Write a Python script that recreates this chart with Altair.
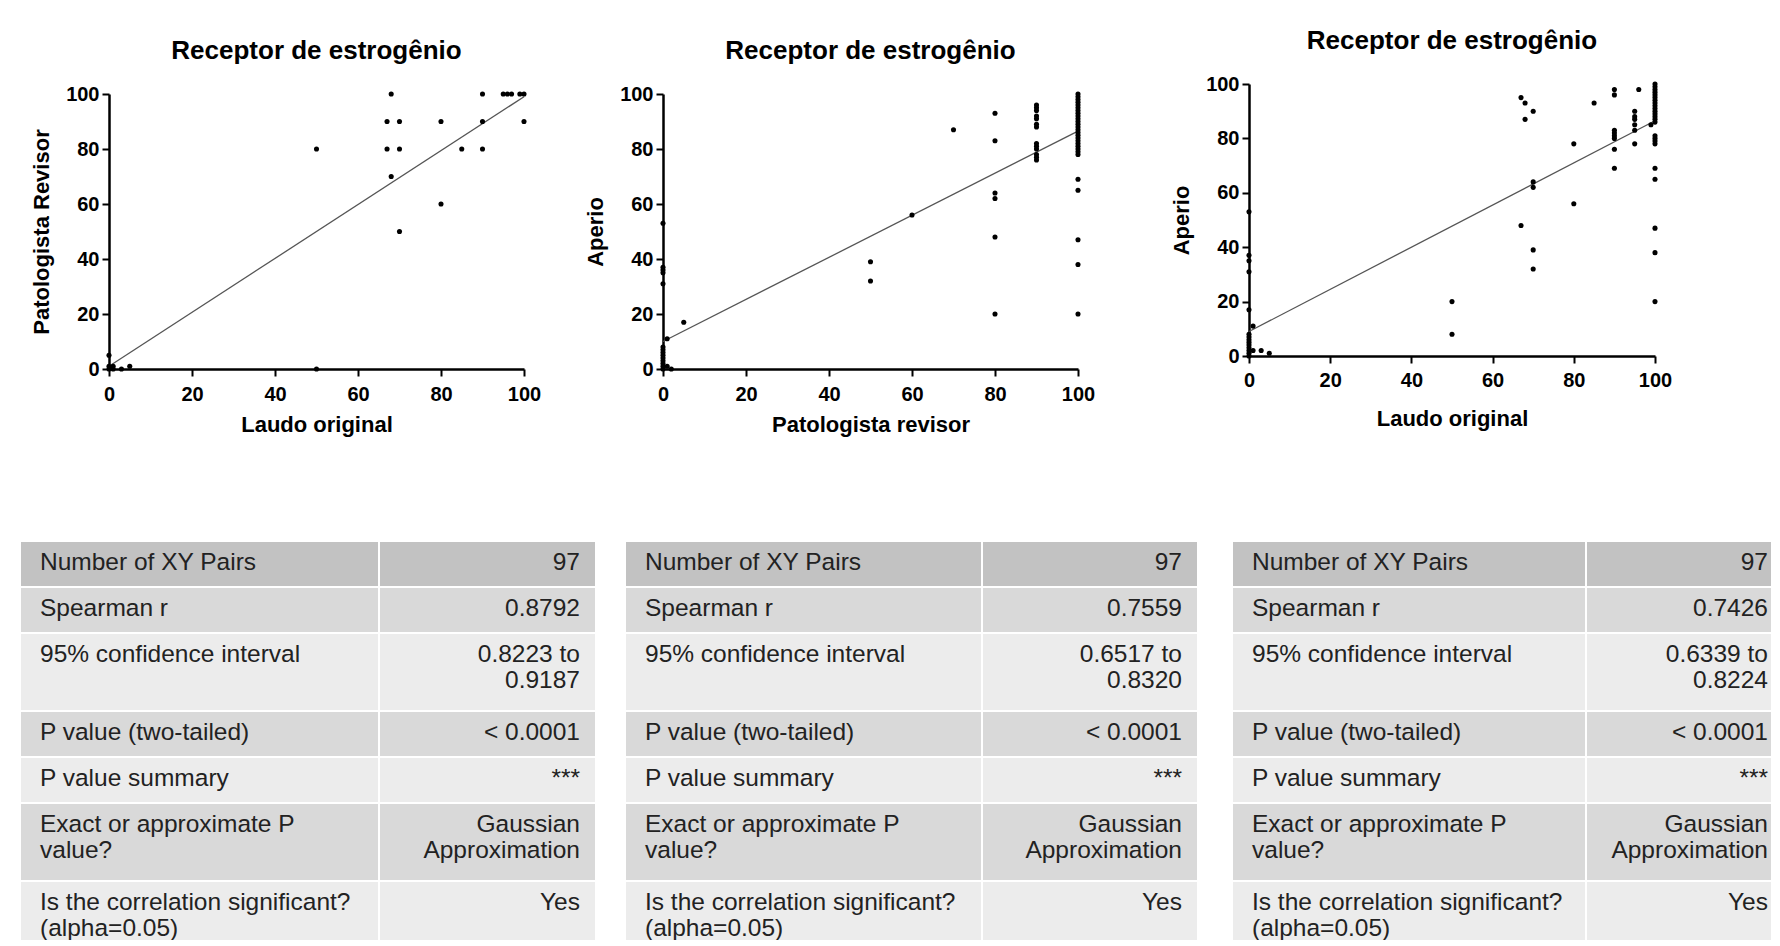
import altair as alt
import pandas as pd

FONT = "Liberation Sans, Arial, Helvetica, sans-serif"
TITLE = "Receptor de estrogênio"
TICKS = [0, 20, 40, 60, 80, 100]

# ---- Plot 1: Laudo original (x) vs Patologista Revisor (y)
p1_x = [0, 0, 0, 1, 1, 3, 5, 50, 50, 67, 67, 68, 68, 70, 70, 70, 80, 80, 85, 90, 90, 90, 95, 96, 97, 99, 100, 100]
p1_y = [0, 5, 1, 1, 0, 0, 1, 0, 80, 90, 80, 100, 70, 90, 80, 50, 90, 60, 80, 100, 90, 80, 100, 100, 100, 100, 100, 90]
p1_fit_x = [0, 100]
p1_fit_y = [1, 99]

# ---- Plot 2: Patologista revisor (x) vs Aperio (y)
p2_x = [0, 0, 0, 0, 0, 0, 0, 0, 0, 0, 0, 0, 0, 0, 1, 1, 2, 5, 50, 50, 60, 70,
        80, 80, 80, 80, 80, 80,
        90, 90, 90, 90, 90, 90, 90, 90, 90, 90, 90, 90, 90,
        100, 100, 100, 100, 100, 100, 100, 100, 100, 100, 100, 100, 100, 100,
        100, 100, 100, 100, 100, 100, 100, 100, 100, 100, 100, 100, 100, 100]
p2_y = [0, 1, 2, 3, 4, 5, 6, 7, 8, 31, 35, 36, 37, 53, 11, 1, 0, 17, 39, 32, 56, 87,
        93, 83, 64, 62, 48, 20,
        96, 95, 94, 92, 91, 89, 88, 82, 81, 80, 78, 77, 76,
        100, 99, 98, 97, 96, 95, 94, 93, 92, 91, 90, 89, 88, 87,
        86, 85, 84, 83, 82, 81, 80, 79, 78, 69, 65, 47, 38, 20]
p2_fit_x = [0, 100]
p2_fit_y = [10, 86.5]

# ---- Plot 3: Laudo original (x) vs Aperio (y)
p3_x = [0, 0, 0, 0, 0, 0, 0, 0, 0, 0, 0, 0, 0, 0, 1, 1, 3, 5, 50, 50,
        67, 67, 68, 68, 70, 70, 70, 70, 70, 80, 80, 85,
        90, 90, 90, 90, 90, 90, 90, 90, 95, 95, 95, 95, 95, 95, 96, 99,
        100, 100, 100, 100, 100, 100, 100, 100, 100, 100, 100, 100,
        100, 100, 100, 100, 100, 100, 100, 100, 100, 100, 100, 100]
p3_y = [0, 1, 2, 3, 4, 5, 6, 7, 8, 17, 31, 35, 37, 53, 11, 2, 2, 1, 20, 8,
        95, 48, 93, 87, 90, 64, 62, 39, 32, 78, 56, 93,
        98, 96, 83, 82, 81, 80, 76, 69, 90, 88, 87, 85, 83, 78, 98, 85,
        100, 99, 98, 97, 96, 95, 94, 93, 92, 91, 90, 89,
        88, 87, 86, 81, 80, 79, 78, 69, 65, 47, 38, 20]
p3_fit_x = [0, 100]
p3_fit_y = [9, 86.5]

# ---- Tables
ROW_LABELS = [
    "Number of XY Pairs",
    "Spearman r",
    "95% confidence interval",
    "P value (two-tailed)",
    "P value summary",
    "Exact or approximate P\nvalue?",
    "Is the correlation significant?\n(alpha=0.05)",
]
t1_values = ["97", "0.8792", "0.8223 to\n0.9187", "< 0.0001", "***", "Gaussian\nApproximation", "Yes"]
t2_values = ["97", "0.7559", "0.6517 to\n0.8320", "< 0.0001", "***", "Gaussian\nApproximation", "Yes"]
t3_values = ["97", "0.7426", "0.6339 to\n0.8224", "< 0.0001", "***", "Gaussian\nApproximation", "Yes"]

# layout constants
ROW_H = 46
EXTRA_LINE = 32
TABLE_H = 399
NOFRAME = alt.ViewBackground(stroke="transparent", strokeWidth=0)


def axis(title, label_pad, title_pad):
    return alt.Axis(
        title=title, values=TICKS, grid=False,
        domainColor="black", domainWidth=2.5,
        tickColor="black", tickWidth=2, tickSize=7,
        labelFont=FONT, labelFontSize=20, labelFontWeight="bold", labelColor="black",
        labelPadding=label_pad, labelFlush=False, labelOverlap=False,
        titleFont=FONT, titleFontSize=22, titleFontWeight="bold", titleColor="black",
        titlePadding=title_pad,
    )


def scatter(xs, ys, fx, fy, xt, yt, w, h, xlpad, xtpad):
    pts = pd.DataFrame({"x": xs, "y": ys})
    fit = pd.DataFrame({"x": fx, "y": fy})
    xenc = alt.X("x:Q", scale=alt.Scale(domain=[0, 100], nice=False, zero=False), axis=axis(xt, xlpad, xtpad))
    yenc = alt.Y("y:Q", scale=alt.Scale(domain=[0, 100], nice=False, zero=False), axis=axis(yt, 3, 12))
    line = alt.Chart(fit).mark_line(color="#555555", strokeWidth=1.3).encode(x=xenc, y=yenc)
    dots = alt.Chart(pts).mark_circle(size=26, color="black", opacity=1).encode(x=xenc, y=yenc)
    return alt.layer(line, dots).properties(
        width=w, height=h, view=NOFRAME,
        title=alt.TitleParams(TITLE, font=FONT, fontSize=26, fontWeight="bold",
                              color="black", anchor="middle", offset=20),
    )


def table(values, col1, col2, pad_r):
    cells, texts = [], []
    top = 0
    total_w = col1 + col2
    for i, (lab, val) in enumerate(zip(ROW_LABELS, values)):
        n = max(lab.count("\n"), val.count("\n")) + 1
        hgt = ROW_H + EXTRA_LINE * (n - 1)
        shade = "head" if i == 0 else ("dark" if i % 2 == 1 else "light")
        cells.append({"x0": 0, "x1": col1, "y0": top, "y1": top + hgt, "shade": shade})
        cells.append({"x0": col1, "x1": total_w, "y0": top, "y1": top + hgt, "shade": shade})
        texts.append({"tx": 20, "ty": top + 10, "t": lab, "side": "l"})
        texts.append({"tx": total_w - pad_r, "ty": top + 10, "t": val, "side": "r"})
        top += hgt
    cdf = pd.DataFrame(cells)
    tdf = pd.DataFrame(texts)
    xs = alt.Scale(domain=[0, total_w], nice=False, zero=False)
    ys = alt.Scale(domain=[0, TABLE_H], nice=False, zero=False, reverse=True)
    rect = alt.Chart(cdf).mark_rect(stroke="white", strokeWidth=2, clip=True).encode(
        x=alt.X("x0:Q", scale=xs, axis=None), x2="x1:Q",
        y=alt.Y("y0:Q", scale=ys, axis=None), y2="y1:Q",
        color=alt.Color("shade:N", legend=None,
                        scale=alt.Scale(domain=["head", "dark", "light"],
                                        range=["#c2c2c2", "#d9d9d9", "#ececec"])),
    )
    tl = alt.Chart(tdf[tdf.side == "l"]).mark_text(
        align="left", baseline="top", lineBreak="\n", lineHeight=26,
        font=FONT, fontSize=24.5, color="#222222", clip=True,
    ).encode(x=alt.X("tx:Q", scale=xs, axis=None), y=alt.Y("ty:Q", scale=ys, axis=None), text="t:N")
    tr = alt.Chart(tdf[tdf.side == "r"]).mark_text(
        align="right", baseline="top", lineBreak="\n", lineHeight=26,
        font=FONT, fontSize=24.5, color="#222222", clip=True,
    ).encode(x=alt.X("tx:Q", scale=xs, axis=None), y=alt.Y("ty:Q", scale=ys, axis=None), text="t:N")
    return alt.layer(rect, tl, tr).properties(width=total_w, height=TABLE_H, view=NOFRAME)


def spacer(w, h):
    return alt.Chart(pd.DataFrame({"s": [0]})).mark_text(text="", opacity=0).encode(
        x=alt.value(0), y=alt.value(0)
    ).properties(width=w, height=h, view=NOFRAME)


p1 = scatter(p1_x, p1_y, p1_fit_x, p1_fit_y, "Laudo original", "Patologista Revisor", 415, 275, 8, 10)
p2 = scatter(p2_x, p2_y, p2_fit_x, p2_fit_y, "Patologista revisor", "Aperio", 415, 275, 8, 10)
p3 = scatter(p3_x, p3_y, p3_fit_x, p3_fit_y, "Laudo original", "Aperio", 406, 272, 7, 18)

col1 = alt.vconcat(spacer(1, 15), p1, spacing=0)
col2 = alt.vconcat(spacer(1, 15), p2, spacing=0)
col3 = alt.vconcat(spacer(1, 1), p3, spacing=0)

row1 = alt.hconcat(spacer(10, 1), col1, spacer(43, 1), col2, spacer(75, 1), col3, spacing=0)
row2 = alt.hconcat(
    table(t1_values, 359, 217, 16), spacer(29, 1),
    table(t2_values, 357, 216, 16), spacer(34, 1),
    table(t3_values, 354, 186, 4),
    spacing=0,
)

chart = alt.vconcat(row1, row2, spacing=100).properties(
    padding={"left": 12, "top": 9, "right": 0, "bottom": 0}
).resolve_scale(x="independent", y="independent").configure_view(
    stroke="transparent", strokeWidth=0
).configure(background="white")

chart.save("out.html", embed_options={"renderer": "svg", "actions": False})
